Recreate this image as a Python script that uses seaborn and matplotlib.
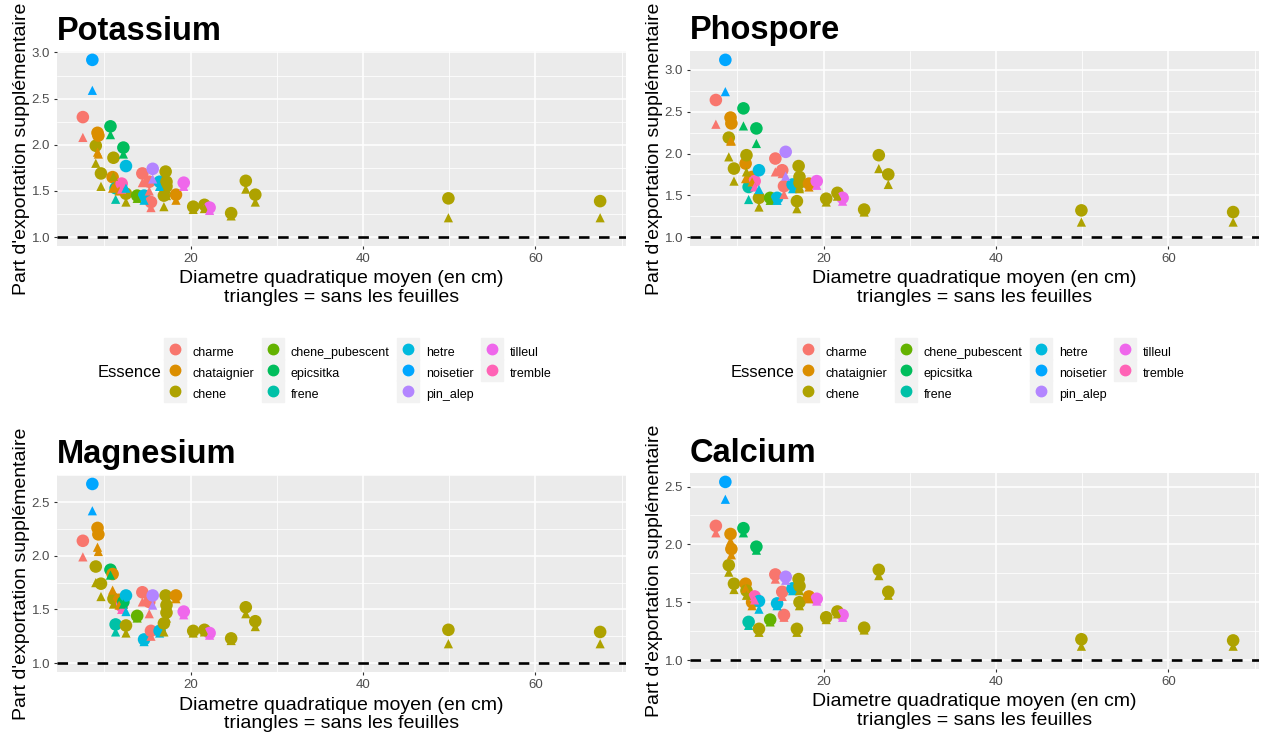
import numpy as np
import pandas as pd
import matplotlib
matplotlib.use("Agg")
import matplotlib.pyplot as plt
from matplotlib.lines import Line2D
from matplotlib.ticker import MultipleLocator, FormatStrFormatter
import seaborn as sns

# Species levels and their hue palette
ESSENCES = ["charme", "chataignier", "chene", "chene_pubescent", "epicsitka",
            "frene", "hetre", "noisetier", "pin_alep", "tilleul", "tremble"]
COULEURS = ["#F8766D", "#DB8E00", "#AEA200", "#64B200", "#00BD5C",
            "#00C1A7", "#00BADE", "#00A6FF", "#B385FF", "#EF67EB", "#FF63B6"]

# One entry per stand
essence = ["charme", "noisetier", "chene", "chataignier", "chataignier", "chene",
           "epicsitka", "chataignier", "chene", "frene", "chataignier", "tremble",
           "epicsitka", "hetre", "chene", "chene_pubescent", "charme", "hetre",
           "charme", "charme", "pin_alep", "hetre", "chene", "chene",
           "chene", "chene", "chataignier", "tilleul", "chene", "chene",
           "tilleul", "chene", "chene", "chene", "chene", "chene"]
dqm = [7.5, 8.6, 9.0, 9.2, 9.3, 9.6,
       10.7, 10.95, 11.05, 11.3, 11.7, 12.0,
       12.2, 12.5, 12.5, 13.8, 14.4, 14.6,
       15.2, 15.4, 15.6, 16.4, 16.9, 17.1,
       17.2, 17.2, 18.3, 19.2, 20.3, 21.6,
       22.2, 24.7, 26.4, 27.5, 49.9, 67.5]

# Extra export share, with leaves (avec) and without leaves (sans)
K_avec = [2.30, 2.92, 1.99, 2.13, 2.10, 1.69, 2.20, 1.65, 1.86, 1.53, 1.55, 1.58,
          1.97, 1.77, 1.47, 1.45, 1.69, 1.45, 1.60, 1.38, 1.74, 1.60, 1.45, 1.71,
          1.60, 1.55, 1.46, 1.59, 1.33, 1.35, 1.32, 1.26, 1.61, 1.46, 1.42, 1.39]
K_sans = [2.08, 2.59, 1.80, 1.92, 1.90, 1.55, 2.11, 1.53, 1.66, 1.41, 1.50, 1.52,
          1.90, 1.53, 1.38, 1.42, 1.59, 1.40, 1.50, 1.32, 1.63, 1.55, 1.33, 1.62,
          1.52, 1.45, 1.40, 1.55, 1.30, 1.31, 1.29, 1.23, 1.52, 1.38, 1.21, 1.21]

P_avec = [2.64, 3.12, 2.19, 2.43, 2.36, 1.82, 2.54, 1.88, 1.98, 1.60, 1.72, 1.67,
          2.30, 1.80, 1.47, 1.47, 1.94, 1.47, 1.80, 1.61, 2.02, 1.63, 1.43, 1.85,
          1.72, 1.65, 1.64, 1.67, 1.46, 1.53, 1.47, 1.33, 1.98, 1.75, 1.32, 1.30]
P_sans = [2.35, 2.74, 1.96, 2.15, 2.15, 1.67, 2.33, 1.70, 1.78, 1.45, 1.66, 1.60,
          2.12, 1.57, 1.36, 1.44, 1.78, 1.44, 1.76, 1.51, 1.73, 1.58, 1.34, 1.75,
          1.60, 1.58, 1.60, 1.62, 1.42, 1.49, 1.43, 1.30, 1.82, 1.63, 1.18, 1.18]

Mg_avec = [2.14, 2.67, 1.90, 2.26, 2.20, 1.74, 1.87, 1.83, 1.60, 1.36, 1.59, 1.53,
           1.57, 1.63, 1.35, 1.44, 1.66, 1.22, 1.57, 1.30, 1.63, 1.30, 1.37, 1.63,
           1.54, 1.47, 1.63, 1.48, 1.30, 1.31, 1.28, 1.23, 1.52, 1.39, 1.31, 1.29]
Mg_sans = [1.99, 2.42, 1.75, 2.08, 2.04, 1.62, 1.82, 1.68, 1.55, 1.29, 1.54, 1.50,
           1.55, 1.48, 1.28, 1.42, 1.57, 1.20, 1.46, 1.25, 1.54, 1.28, 1.29, 1.58,
           1.50, 1.42, 1.60, 1.45, 1.28, 1.29, 1.26, 1.21, 1.46, 1.34, 1.18, 1.18]

Ca_avec = [2.16, 2.54, 1.82, 2.09, 1.96, 1.66, 2.14, 1.66, 1.60, 1.33, 1.50, 1.55,
           1.98, 1.51, 1.27, 1.35, 1.74, 1.49, 1.59, 1.39, 1.72, 1.62, 1.27, 1.70,
           1.64, 1.50, 1.55, 1.53, 1.37, 1.42, 1.39, 1.28, 1.78, 1.59, 1.18, 1.17]
Ca_sans = [2.10, 2.39, 1.76, 2.03, 1.91, 1.61, 2.10, 1.62, 1.56, 1.30, 1.47, 1.52,
           1.95, 1.44, 1.24, 1.33, 1.70, 1.47, 1.55, 1.37, 1.69, 1.60, 1.24, 1.66,
           1.60, 1.47, 1.53, 1.51, 1.35, 1.40, 1.37, 1.26, 1.73, 1.56, 1.12, 1.12]

TITRES = ["Potassium", "Phospore", "Magnesium", "Calcium"]
XLABEL = "Diametre quadratique moyen (en cm)\ntriangles = sans les feuilles"
YLABEL = "Part d'exportation supplémentaire"

sns.set_style("darkgrid")
plt.rcParams["font.family"] = ["Liberation Sans", "DejaVu Sans"]
plt.rcParams["text.color"] = "black"
plt.rcParams["axes.labelcolor"] = "black"

W, H = 1261, 738
fig = plt.figure(figsize=(W / 100, H / 100), dpi=100)
palette = dict(zip(ESSENCES, COULEURS))


def add_axes_px(left, top, right, bottom):
    return fig.add_axes([left / W, 1 - bottom / H, (right - left) / W, (bottom - top) / H])


def panel(ax, titre, avec, sans, title_base):
    df = pd.DataFrame({"Essence": essence, "dqm": dqm, "avec": avec, "sans": sans})
    sns.scatterplot(data=df, x="dqm", y="avec", hue="Essence", hue_order=ESSENCES,
                    palette=palette, marker="o", s=82, linewidth=0, ax=ax,
                    legend=False, zorder=3)
    sns.scatterplot(data=df, x="dqm", y="sans", hue="Essence", hue_order=ESSENCES,
                    palette=palette, marker="^", s=44, linewidth=0, ax=ax,
                    legend=False, zorder=4)
    ax.axhline(1.0, color="black", lw=1.9, ls=(0, (4, 3.6)), zorder=2)

    xs = np.array(dqm)
    x0, x1 = xs.min(), xs.max()
    ax.set_xlim(x0 - 0.05 * (x1 - x0), x1 + 0.05 * (x1 - x0))
    ys = np.concatenate([avec, sans, [1.0]])
    y0, y1 = ys.min(), ys.max()
    ax.set_ylim(y0 - 0.05 * (y1 - y0), y1 + 0.05 * (y1 - y0))

    ax.set_facecolor("#EBEBEB")
    ax.set_axisbelow(True)
    ax.xaxis.set_major_locator(MultipleLocator(20))
    ax.xaxis.set_minor_locator(MultipleLocator(10))
    ax.yaxis.set_major_locator(MultipleLocator(0.5))
    ax.yaxis.set_minor_locator(MultipleLocator(0.25))
    ax.yaxis.set_major_formatter(FormatStrFormatter("%.1f"))
    ax.grid(which="major", color="white", lw=1.1)
    ax.grid(which="minor", color="white", lw=0.55)
    for s in ax.spines.values():
        s.set_visible(False)
    ax.tick_params(which="major", length=2.5, width=0.8, color="#333333",
                   labelsize=9.5, labelcolor="#4D4D4D", pad=2.5,
                   bottom=True, left=True)
    ax.tick_params(which="minor", length=0)

    ax.set_xlabel(XLABEL, fontsize=14, linespacing=1.1, labelpad=4)
    ax.set_ylabel(YLABEL, fontsize=14)
    ax.yaxis.set_label_coords(-0.048, 0.5)

    bb = ax.get_position()
    fig.text(bb.x0, 1 - title_base / H, titre, fontsize=23.5, fontweight="bold",
             va="baseline", ha="left", color="black")


ax_k = add_axes_px(57, 51, 626, 246)
ax_p = add_axes_px(690, 51, 1259, 246)
ax_mg = add_axes_px(57, 475, 626, 672)
ax_ca = add_axes_px(690, 473, 1259, 669)

panel(ax_k, TITRES[0], K_avec, K_sans, 39.5)
panel(ax_p, TITRES[1], P_avec, P_sans, 39.5)
panel(ax_mg, TITRES[2], Mg_avec, Mg_sans, 462.5)
panel(ax_ca, TITRES[3], Ca_avec, Ca_sans, 461.5)

# Species legends under the top row
handles = [(Line2D([], [], marker="s", ms=16.5, color="#F2F2F2", ls=""),
            Line2D([], [], marker="o", ms=7.5, color=c, ls=""))
           for c in COULEURS]
for x_title, x_keys in [(98, 164), (731, 797)]:
    fig.text(x_title / W, 1 - 372.5 / H, "Essence", fontsize=12, va="center", ha="left")
    fig.legend(handles, ESSENCES, ncol=4, loc="center left",
               bbox_to_anchor=(x_keys / W, 1 - 372.5 / H), frameon=False,
               fontsize=9, handlelength=1.75, handleheight=1.75,
               handletextpad=0.55, columnspacing=0.6, labelspacing=0.3,
               borderpad=0, borderaxespad=0)

fig.savefig("out.png", dpi=100)
